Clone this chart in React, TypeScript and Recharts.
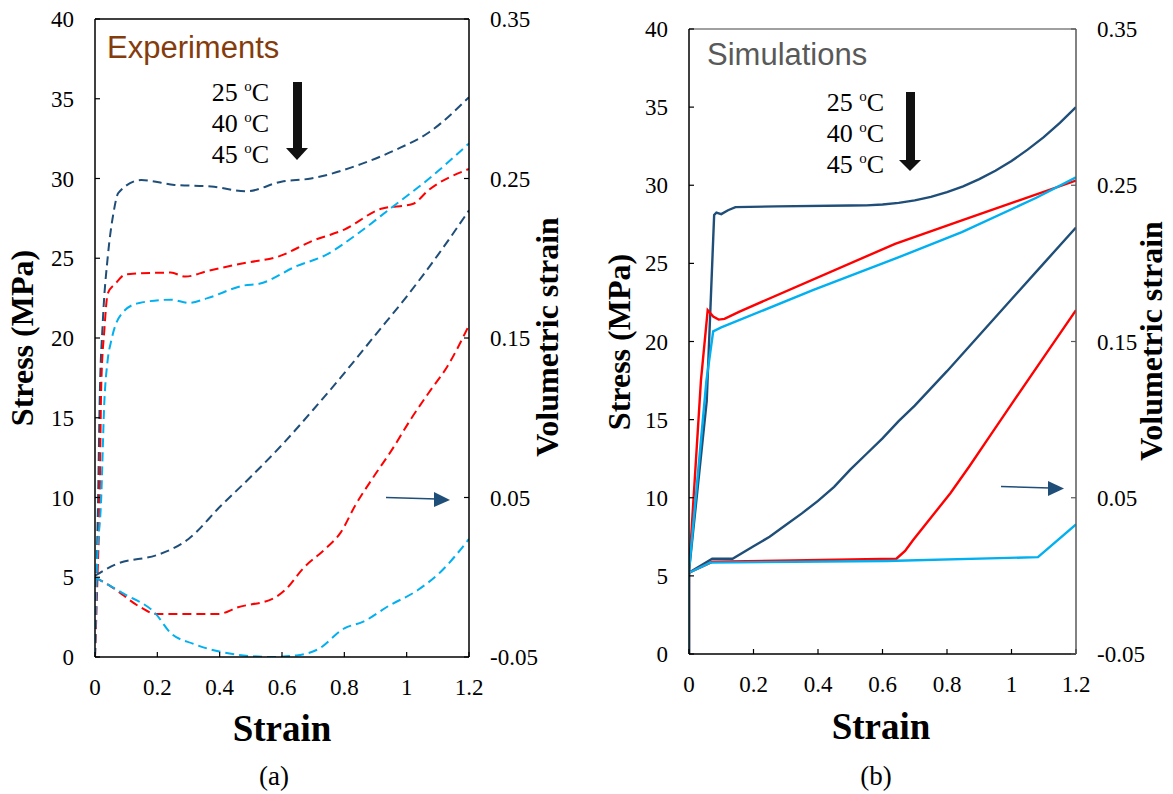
import React from 'react';
import { LineChart, Line, XAxis, YAxis, ReferenceLine } from 'recharts';

// ---------- axis ticks / labels ----------
const strainTicks = [0, 0.2, 0.4, 0.6, 0.8, 1, 1.2];
const stressTicks = [0, 5, 10, 15, 20, 25, 30, 35, 40];
const volTicks = [-0.05, 0.05, 0.15, 0.25, 0.35];
const tempLabels = ['25', '40', '45'];
const seriesNames = ['25 oC', '40 oC', '45 oC'];
const seriesColors = ['#1F4E79', '#FF0000', '#00B0F0'];

// ---------- (a) Experiments: [strain, stress MPa] ----------
const expStress25 = [[0, 0], [0.005, 5], [0.01, 10], [0.015, 16], [0.025, 21], [0.041, 25.1], [0.059, 27.8], [0.075, 29.1], [0.148, 29.9], [0.255, 29.6], [0.373, 29.5], [0.486, 29.2], [0.598, 29.8], [0.693, 30.0], [0.853, 30.9], [0.965, 31.8], [1.072, 32.9], [1.2, 35.1]];
const expStress40 = [[0, 0], [0.008, 5], [0.015, 10], [0.02, 17], [0.03, 20.5], [0.041, 22.8], [0.065, 23.4], [0.1, 24.0], [0.243, 24.1], [0.29, 23.85], [0.361, 24.2], [0.48, 24.7], [0.587, 25.1], [0.699, 26.1], [0.8, 26.8], [0.918, 28.1], [1.019, 28.4], [1.072, 29.3], [1.2, 30.6]];
const expStress45 = [[0, 0], [0.005, 5], [0.02, 10], [0.03, 16], [0.04, 18.5], [0.053, 19.9], [0.089, 21.6], [0.142, 22.2], [0.243, 22.4], [0.302, 22.2], [0.361, 22.5], [0.48, 23.3], [0.527, 23.4], [0.646, 24.5], [0.74, 25.2], [0.847, 26.6], [0.953, 28.2], [1.06, 29.8], [1.2, 32.2]];
// [strain, volumetric strain]
const expVol25 = [[0, 0.001], [0.065, 0.008], [0.2, 0.014], [0.25, 0.018], [0.3, 0.024], [0.4, 0.044], [0.5, 0.063], [0.6, 0.083], [0.7, 0.105], [0.8, 0.128], [0.9, 0.152], [1.0, 0.176], [1.1, 0.202], [1.2, 0.23]];
const expVol40 = [[0, 0], [0.053, -0.006], [0.148, -0.019], [0.195, -0.023], [0.29, -0.023], [0.397, -0.023], [0.456, -0.019], [0.575, -0.013], [0.61, -0.008], [0.67, 0.006], [0.74, 0.018], [0.788, 0.028], [0.835, 0.045], [0.894, 0.063], [0.953, 0.08], [1.013, 0.099], [1.072, 0.116], [1.13, 0.132], [1.2, 0.158]];
const expVol45 = [[0, 0], [0.089, -0.01], [0.195, -0.023], [0.243, -0.035], [0.314, -0.0416], [0.409, -0.047], [0.503, -0.0495], [0.56, -0.05], [0.646, -0.049], [0.717, -0.045], [0.8, -0.032], [0.859, -0.028], [0.942, -0.018], [1.036, -0.008], [1.107, 0.003], [1.2, 0.024]];

// ---------- (b) Simulations ----------
const simStress25 = [[0, 0], [0, 5.3], [0.055, 16.2], [0.078, 28.1], [0.085, 28.25], [0.1, 28.15], [0.121, 28.4], [0.144, 28.6], [0.271, 28.65], [0.5, 28.7], [0.55, 28.71], [0.6, 28.77], [0.65, 28.87], [0.7, 29.03], [0.75, 29.26], [0.8, 29.56], [0.85, 29.93], [0.9, 30.39], [0.95, 30.93], [1.0, 31.55], [1.05, 32.28], [1.1, 33.08], [1.15, 33.99], [1.2, 35.0]];
const simStress40 = [[0, 0], [0, 5.3], [0.037, 17.5], [0.058, 22.0], [0.075, 21.6], [0.092, 21.4], [0.11, 21.45], [0.155, 21.9], [0.639, 26.25], [0.846, 27.75], [1.2, 30.3]];
const simStress45 = [[0, 0], [0, 5.3], [0.054, 17.5], [0.075, 20.65], [0.1, 20.9], [0.386, 23.3], [0.639, 25.3], [0.846, 27.0], [1.077, 29.2], [1.2, 30.5]];
const simVol25 = [[0, 0.002], [0.072, 0.011], [0.135, 0.011], [0.2, 0.019], [0.25, 0.025], [0.3, 0.0325], [0.35, 0.04], [0.4, 0.048], [0.45, 0.057], [0.5, 0.068], [0.55, 0.078], [0.6, 0.088], [0.65, 0.099], [0.7, 0.109], [0.75, 0.12], [0.8, 0.131], [0.9, 0.154], [1.0, 0.177], [1.1, 0.2], [1.2, 0.223]];
const simVol40 = [[0, 0.002], [0.072, 0.009], [0.643, 0.011], [0.67, 0.016], [0.695, 0.023], [0.753, 0.038], [0.811, 0.053], [0.869, 0.07], [0.938, 0.091], [1.007, 0.112], [1.1, 0.14], [1.2, 0.17]];
const simVol45 = [[0, 0.002], [0.066, 0.0085], [0.614, 0.0095], [1.082, 0.012], [1.2, 0.033]];

const toPts = (arr: number[][]) => arr.map(([x, y]) => ({ x, y }));

const serif = '"Liberation Serif", "Times New Roman", serif';
const sans = '"Liberation Sans", Arial, sans-serif';

const makeTick = (anchor: 'start' | 'middle' | 'end', dy: string) => (props: any) => (
  <text x={props.x} y={props.y} dy={dy} textAnchor={anchor} fontFamily={serif} fontSize={23} fill="#000">
    {String(props.payload.value)}
  </text>
);
const bottomTick = makeTick('middle', '0.71em');
const leftTick = makeTick('end', '0.35em');
const rightTick = makeTick('start', '0.35em');

type PanelProps = {
  left: number; width: number; height: number; marginTop: number; rightW: number;
  stress: number[][][]; vol: number[][][]; dashed: boolean; topColor: string; rightColor: string;
};

function Panel(p: PanelProps) {
  const lineProps = (i: number) => ({
    stroke: seriesColors[i],
    strokeWidth: p.dashed ? 2 : 2.4,
    strokeDasharray: p.dashed ? '9 5' : undefined,
    dot: false as const,
    activeDot: false as const,
    isAnimationActive: false,
    type: (p.dashed ? 'monotone' : 'linear') as any,
    dataKey: 'y',
  });
  return (
    <div style={{ position: 'absolute', left: p.left, top: 0 }}>
      <LineChart width={p.width} height={p.height} margin={{ top: p.marginTop, right: 0, bottom: 0, left: 0 }}>
        <XAxis type="number" dataKey="x" domain={[0, 1.2]} ticks={strainTicks} height={43}
          axisLine={{ stroke: '#000', strokeWidth: 1.5 }} tickLine={{ stroke: '#000', strokeWidth: 1.2 }}
          tickSize={-5} tickMargin={27} tick={bottomTick} allowDataOverflow />
        <YAxis yAxisId="left" type="number" domain={[0, 40]} ticks={stressTicks} width={95}
          axisLine={{ stroke: '#000', strokeWidth: 1.5 }} tickLine={{ stroke: '#000', strokeWidth: 1.2 }}
          tickSize={-5} tickMargin={26} tick={leftTick} allowDataOverflow />
        <YAxis yAxisId="right" orientation="right" type="number" domain={[-0.05, 0.35]} ticks={volTicks} width={p.rightW}
          axisLine={{ stroke: p.rightColor, strokeWidth: 1.5 }} tickLine={{ stroke: p.rightColor, strokeWidth: 1.2 }}
          tickSize={-5} tickMargin={26} tick={rightTick} allowDataOverflow />
        <ReferenceLine yAxisId="left" y={40} stroke={p.topColor} strokeWidth={1.5} />
        {p.stress.map((d, i) => (
          <Line key={'s' + i} name={seriesNames[i]} yAxisId="left" data={toPts(d)} {...lineProps(i)} />
        ))}
        {p.vol.map((d, i) => (
          <Line key={'r' + i} name={seriesNames[i] + ' volumetric'} yAxisId="right" data={toPts(d)} {...lineProps(i)} />
        ))}
      </LineChart>
    </div>
  );
}

function Temps({ x, y0, step }: { x: number; y0: number; step: number }) {
  return (
    <g>
      {tempLabels.map((t, i) => (
        <text key={t} x={x} y={y0 + i * step} textAnchor="end" fontFamily={serif} fontSize={26} fill="#000">
          {`${t} `}<tspan dy={-10} fontSize={15}>o</tspan><tspan dy={10}>C</tspan>
        </text>
      ))}
    </g>
  );
}

export default function App() {
  return (
    <div style={{ position: 'absolute', left: 0, top: 0, width: 1173, height: 794, background: '#fff', overflow: 'hidden' }}>
      <Panel left={0} width={590} height={700} marginTop={19} rightW={121}
        stress={[expStress25, expStress40, expStress45]} vol={[expVol25, expVol40, expVol45]}
        dashed topColor="#000" rightColor="#000" />
      <Panel left={594} width={579} height={697} marginTop={29} rightW={97}
        stress={[simStress25, simStress40, simStress45]} vol={[simVol25, simVol40, simVol45]}
        dashed={false} topColor="#808080" rightColor="#595959" />
      <svg width={1173} height={794} style={{ position: 'absolute', left: 0, top: 0, pointerEvents: 'none' }}>
        {/* panel (a) */}
        <text x={107} y={58} fontFamily={sans} fontSize={31} fill="#843C0C">Experiments</text>
        <Temps x={269} y0={101} step={31} />
        <rect x={293} y={82} width={9} height={67} fill="#111" />
        <polygon points="286,148 308,148 297,160" fill="#111" />
        <line x1={386} y1={497.5} x2={437} y2={499} stroke="#1F4E79" strokeWidth={1.5} />
        <polygon points="434,492 450,500 434,507" fill="#1F4E79" />
        <text transform="translate(33,338) rotate(-90)" textAnchor="middle" fontFamily={serif} fontWeight="bold" fontSize={32} fill="#000">Stress (MPa)</text>
        <text transform="translate(558,337) rotate(-90)" textAnchor="middle" fontFamily={serif} fontWeight="bold" fontSize={32} fill="#000">Volumetric strain</text>
        <text x={282} y={741} textAnchor="middle" fontFamily={serif} fontWeight="bold" fontSize={37} fill="#000">Strain</text>
        <text x={274} y={785} textAnchor="middle" fontFamily={serif} fontSize={27} fill="#000">(a)</text>

        {/* panel (b) */}
        <text x={707} y={65} fontFamily={sans} fontSize={31} fill="#595959">Simulations</text>
        <Temps x={884} y0={111} step={31} />
        <rect x={906} y={92} width={9} height={69} fill="#111" />
        <polygon points="899,160 921,160 910,171" fill="#111" />
        <line x1={1001} y1={486.5} x2={1050} y2={488} stroke="#1F4E79" strokeWidth={1.5} />
        <polygon points="1048,481 1064,488.5 1048,496" fill="#1F4E79" />
        <text transform="translate(630,342) rotate(-90)" textAnchor="middle" fontFamily={serif} fontWeight="bold" fontSize={32} fill="#000">Stress (MPa)</text>
        <text transform="translate(1162,341) rotate(-90)" textAnchor="middle" fontFamily={serif} fontWeight="bold" fontSize={32} fill="#000">Volumetric strain</text>
        <text x={881} y={739} textAnchor="middle" fontFamily={serif} fontWeight="bold" fontSize={37} fill="#000">Strain</text>
        <text x={876} y={785} textAnchor="middle" fontFamily={serif} fontSize={27} fill="#000">(b)</text>
      </svg>
    </div>
  );
}
